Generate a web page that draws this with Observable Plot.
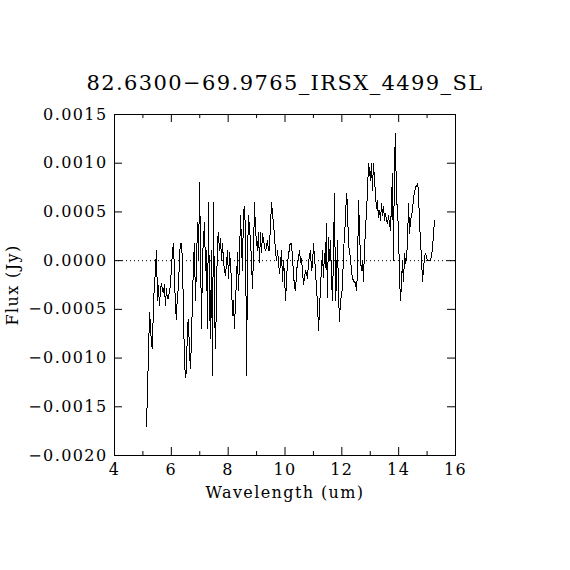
<!DOCTYPE html>
<html><head><meta charset="utf-8">
<script src="https://cdn.jsdelivr.net/npm/d3@7"></script>
<script src="https://cdn.jsdelivr.net/npm/@observablehq/plot@0.6"></script>
<style>body{margin:0;background:#fff} svg text{letter-spacing:1.4px}</style>
</head><body><div id="chart"></div>
<script>
const title = "82.6300\u221269.9765_IRSX_4499_SL";
const xLabel = "Wavelength (um)";
const yLabel = "Flux (Jy)";
const xMajorTicks = [4, 6, 8, 10, 12, 14, 16];
const xMinorTicks = [5, 7, 9, 11, 13, 15];
const yMajorTicks = [-0.002, -0.0015, -0.001, -0.0005, 0, 0.0005, 0.001, 0.0015];

const wavelength = [
5.13,5.16,5.20,5.23,5.27,5.30,5.34,5.37,5.41,5.44,
5.48,5.51,5.55,5.58,5.62,5.65,5.69,5.72,5.76,5.79,
5.83,5.86,5.90,5.93,5.97,6.00,6.04,6.07,6.11,6.14,
6.18,6.21,6.25,6.29,6.32,6.36,6.39,6.43,6.46,6.50,
6.53,6.57,6.60,6.64,6.67,6.71,6.74,6.78,6.81,6.85,
6.89,6.92,6.96,6.99,7.03,7.06,7.10,7.13,7.17,7.20,
7.24,7.27,7.31,7.34,7.38,7.41,7.45,7.48,7.52,7.55,
7.59,7.62,7.66,7.69,7.73,7.77,7.80,7.84,7.87,7.91,
7.94,7.98,8.01,8.05,8.08,8.12,8.15,8.19,8.22,8.26,
8.29,8.33,8.36,8.40,8.43,8.47,8.50,8.54,8.57,8.61,
8.65,8.68,8.72,8.75,8.79,8.82,8.86,8.89,8.93,8.96,
9.00,9.03,9.07,9.10,9.14,9.17,9.21,9.24,9.28,9.31,
9.35,9.38,9.42,9.45,9.49,9.53,9.56,9.60,9.63,9.67,
9.70,9.74,9.77,9.81,9.84,9.88,9.91,9.95,9.98,10.02,
10.05,10.09,10.12,10.16,10.19,10.23,10.26,10.30,10.33,10.37,
10.41,10.44,10.48,10.51,10.55,10.58,10.62,10.65,10.69,10.72,
10.76,10.79,10.83,10.86,10.90,10.93,10.97,11.00,11.04,11.07,
11.11,11.14,11.18,11.21,11.25,11.28,11.32,11.35,11.39,11.42,
11.46,11.49,11.53,11.57,11.60,11.64,11.67,11.71,11.74,11.78,
11.81,11.85,11.88,11.92,11.95,11.99,12.02,12.06,12.09,12.13,
12.16,12.20,12.23,12.27,12.30,12.34,12.37,12.41,12.45,12.48,
12.52,12.55,12.59,12.62,12.66,12.69,12.73,12.76,12.80,12.83,
12.87,12.90,12.94,12.97,13.01,13.04,13.08,13.11,13.15,13.18,
13.22,13.25,13.29,13.33,13.36,13.40,13.43,13.47,13.50,13.54,
13.57,13.61,13.64,13.68,13.71,13.75,13.78,13.82,13.85,13.89,
13.92,13.96,13.99,14.03,14.06,14.10,14.13,14.17,14.21,14.24,
14.28,14.31,14.35,14.38,14.42,14.45,14.49,14.52,14.56,14.59,
14.63,14.66,14.70,14.73,14.77,14.80,14.84,14.87,14.91,14.94,
14.98,15.01,15.05,15.09,15.12,15.16,15.19,15.23,15.26
];

const flux = [
-0.00170,-0.00131,-0.00095,-0.00053,-0.00067,-0.00087,-0.00090,-0.00041,-0.00026,-0.00008,
0.00010,-0.00041,-0.00026,-0.00046,-0.00029,-0.00023,-0.00031,-0.00033,-0.00024,-0.00046,
-0.00029,-0.00039,-0.00039,-0.00031,-0.00026,-0.00008,0.00008,0.00018,-0.00008,-0.00046,
-0.00060,-0.00036,-0.00029,0.00005,0.00018,0.00018,-0.00002,-0.00053,-0.00103,-0.00120,
-0.00113,-0.00067,-0.00060,-0.00092,-0.00111,-0.00082,-0.00041,-0.00005,0.00018,-0.00041,
0.00000,0.00039,0.00000,0.00080,0.00010,-0.00070,0.00005,0.00021,0.00039,-0.00010,
0.00010,-0.00070,0.00060,-0.00041,-0.00080,0.00010,-0.00118,0.00060,-0.00041,-0.00090,
-0.00041,0.00021,0.00029,0.00010,0.00023,0.00000,0.00018,-0.00002,-0.00010,-0.00015,
-0.00002,0.00010,-0.00018,0.00008,-0.00002,-0.00023,-0.00056,-0.00041,-0.00070,-0.00041,
-0.00021,0.00008,-0.00031,-0.00002,0.00046,0.00021,-0.00010,0.00049,0.00056,0.00031,
-0.00118,0.00010,0.00046,0.00031,0.00021,-0.00002,-0.00029,0.00010,0.00060,0.00029,
0.00021,0.00010,0.00029,-0.00002,0.00029,0.00008,0.00028,0.00021,0.00015,0.00010,
0.00014,0.00021,0.00010,0.00010,0.00038,0.00060,0.00046,0.00038,0.00024,0.00008,
0.00000,0.00010,-0.00002,-0.00013,-0.00002,0.00010,-0.00021,0.00000,-0.00015,-0.00041,
-0.00023,0.00000,0.00003,0.00015,0.00018,0.00018,0.00003,-0.00013,-0.00026,-0.00031,
-0.00010,-0.00003,0.00005,0.00010,-0.00002,0.00002,-0.00012,-0.00024,-0.00018,-0.00010,
-0.00013,-0.00018,-0.00002,0.00005,0.00010,-0.00010,-0.00005,0.00018,0.00002,-0.00008,
-0.00031,-0.00041,-0.00072,-0.00053,-0.00026,-0.00010,0.00010,-0.00017,0.00007,-0.00007,
0.00038,-0.00038,0.00024,0.00000,0.00021,-0.00021,-0.00041,0.00010,0.00069,-0.00041,
-0.00021,0.00021,-0.00034,-0.00062,-0.00041,-0.00036,-0.00028,0.00007,0.00026,0.00041,
0.00069,0.00059,0.00017,0.00010,0.00003,-0.00010,-0.00017,-0.00021,-0.00021,-0.00024,
-0.00031,-0.00010,0.00062,0.00031,0.00000,-0.00010,0.00000,-0.00021,0.00013,0.00031,
0.00051,0.00069,0.00100,0.00092,0.00082,0.00100,0.00072,0.00100,0.00085,0.00069,
0.00054,0.00062,0.00044,0.00051,0.00041,0.00059,0.00046,0.00056,0.00041,0.00048,
0.00041,0.00038,0.00046,0.00038,0.00031,0.00059,0.00089,0.00000,0.00100,0.00130,
0.00062,0.00054,0.00031,-0.00013,-0.00041,-0.00026,0.00000,-0.00021,0.00007,-0.00003,
0.00002,0.00021,0.00059,0.00028,0.00041,0.00046,0.00051,0.00065,0.00070,0.00075,
0.00077,0.00079,0.00072,0.00038,0.00021,0.00003,-0.00021,-0.00010,0.00003,0.00007,
0.00005,0.00000,0.00000,0.00000,0.00000,0.00005,0.00013,0.00028,0.00041
];

const data = wavelength.map((w, i) => ({w, f: flux[i]}));
const innerW = 570 - 114 - 115;
const innerH = 570 - 114 - 115;
const font = "DejaVu Serif";

const chart = Plot.plot({
  width: 570, height: 570,
  marginLeft: 114, marginRight: 115, marginTop: 114, marginBottom: 115,
  x: {domain: [4, 16]},
  y: {domain: [-0.002, 0.0015]},
  style: {fontFamily: font, background: "white", color: "black"},
  marks: [
    Plot.ruleY([0], {stroke: "black", strokeWidth: 1, strokeDasharray: "1,3"}),
    Plot.line(data, {x: "w", y: "f", stroke: "black", strokeWidth: 1, shapeRendering: "crispEdges"}),
    Plot.frame({stroke: "black", strokeWidth: 1}),
    Plot.tickX(xMajorTicks, {x: d => d, insetTop: innerH - 8, stroke: "black"}),
    Plot.tickX(xMajorTicks, {x: d => d, insetBottom: innerH - 8, stroke: "black"}),
    Plot.tickX(xMinorTicks, {x: d => d, insetTop: innerH - 4, stroke: "black"}),
    Plot.tickX(xMinorTicks, {x: d => d, insetBottom: innerH - 4, stroke: "black"}),
    Plot.tickY(yMajorTicks, {y: d => d, insetRight: innerW - 8, stroke: "black"}),
    Plot.tickY(yMajorTicks, {y: d => d, insetLeft: innerW - 8, stroke: "black"}),
    Plot.axisX(xMajorTicks, {tickSize: 0, tickPadding: 8, fontSize: 16, label: null, tickFormat: d => String(d)}),
    Plot.axisY(yMajorTicks, {tickSize: 0, tickPadding: 7, fontSize: 16, label: null, tickFormat: d3.format(".4f")}),
    Plot.text([title], {text: d => d, frameAnchor: "top", lineAnchor: "middle", textAnchor: "middle", dy: -31, fontSize: 21, fill: "black"}),
    Plot.text([xLabel], {text: d => d, frameAnchor: "bottom", lineAnchor: "middle", textAnchor: "middle", dy: 37, fontSize: 16, fill: "black"}),
    Plot.text([yLabel], {text: d => d, frameAnchor: "left", lineAnchor: "middle", textAnchor: "middle", dx: -102, rotate: -90, fontSize: 16, fill: "black"})
  ]
});
document.getElementById("chart").appendChild(chart);
</script>
</body></html>
